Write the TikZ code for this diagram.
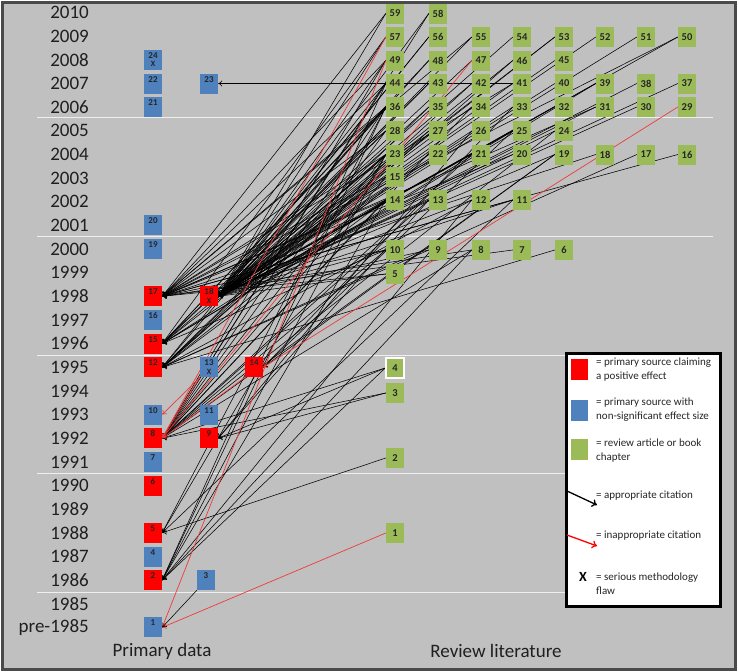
\documentclass[tikz,border=0pt]{standalone}
\usepackage{fontspec}
\setmainfont{Carlito}
\usetikzlibrary{arrows.meta}
\pgfdeclarelayer{back}
\pgfdeclarelayer{edges}
\pgfsetlayers{back,edges,main}
\definecolor{bggray}{HTML}{C0C0C0}
\definecolor{framegray}{HTML}{4A4A4A}
\definecolor{pred}{HTML}{FF0000}
\definecolor{pblue}{HTML}{4F81BD}
\definecolor{rgreen}{HTML}{9BBB59}
\definecolor{cred}{HTML}{F03A3A}
\tikzset{
  year/.style={anchor=east, font=\fontsize{19}{19}\selectfont, text=black!88, inner sep=0pt},
  prim/.style={rectangle, minimum width=18pt, minimum height=20pt, inner sep=0pt,
    text height=8.5pt, text depth=11.5pt, font=\bfseries\fontsize{9}{9}\selectfont, text=black!85},
  posbox/.style={prim, fill=pred},
  nsigbox/.style={prim, fill=pblue},
  revbox/.style={rectangle, fill=rgreen, minimum width=18pt, minimum height=20pt, inner sep=0pt,
    font=\bfseries\fontsize{10.5}{10.5}\selectfont, text=black!85},
  xmark/.style={font=\bfseries\fontsize{8}{8}\selectfont, inner sep=0pt, text=black!85},
  cite/.style={draw=black, line width=0.55pt, -{To[length=4pt,width=6pt]}},
  badcite/.style={draw=cred, line width=0.7pt, -{To[length=4pt,width=6pt]}},
  sepline/.style={draw=white!75!bggray, line width=0.9pt},
  legtext/.style={anchor=west, align=left, inner sep=0pt, font=\fontsize{11}{14}\selectfont, text=black!85},
  bottomlabel/.style={font=\fontsize{19}{19}\selectfont, text=black!88, inner sep=0pt},
}
\begin{document}
\begin{tikzpicture}[x=1pt,y=-1pt]
\useasboundingbox (0,0) rectangle (739,672);
\begin{pgfonlayer}{back}
  \fill[white] (0,0) rectangle (739,672);
  \draw[framegray, line width=3pt, fill=bggray] (2.5,2.5) rectangle (735,669.5);
  \foreach \yy in {117.5,236,355,473.5,592}
    \draw[sepline] (37,\yy) -- (713,\yy);
\end{pgfonlayer}

% year labels
\foreach \yr [count=\k from 0] in {2010,2009,2008,2007,2006,2005,2004,2003,2002,2001,2000,1999,1998,1997,1996,1995,1994,1993,1992,1991,1990,1989,1988,1987,1986,1985,pre-1985}
  \node[year] (yr\k) at (89,{12.5+23.65*\k}) {\yr};

% primary data
\foreach \n/\x/\y in {24/153/59.8,22/153/83.5,21/153/107.1,23/209/83.5,20/153/225.4,19/153/249,16/153/320,13/209/367.3,10/153/414.6,11/209/414.6,7/153/461.9,4/153/556.5,3/206/580.1,1/153/627.4}
  \node[nsigbox] (p\n) at (\x,\y) {\n};
\foreach \n/\x/\y in {17/153/296.3,18/209/296.3,15/153/343.6,12/153/367.3,14/254/367.3,8/153/438.2,9/209/438.2,6/153/485.5,5/153/532.8,2/153/580.1}
  \node[posbox] (p\n) at (\x,\y) {\n};
\node[xmark, yshift=-4.5pt] (x24) at (p24.center) {X};
\node[xmark, yshift=-4.5pt] (x18) at (p18.center) {X};
\node[xmark, yshift=-4.5pt] (x13) at (p13.center) {X};

% review literature
\foreach \n/\x/\y in {
  59/395/13.5,58/438/13.5,
  57/395/37,56/438/37,55/481/37,54/522/37,53/564/37,52/605/37,51/646/37,50/687/37,
  49/395/60.5,48/438/60.5,47/481/60.5,46/522/60.5,45/564/60.5,
  44/395/83.5,43/438/83.5,42/481/83.5,41/522/83.5,40/564/83.5,39/605/83.5,38/646/83.5,37/687/83.5,
  36/395/107,35/438/107,34/481/107,33/522/107,32/564/107,31/605/107,30/646/107,29/687/107,
  28/395/131,27/438/131,26/481/131,25/522/131,24/564/131,
  23/395/154.5,22/438/154.5,21/481/154.5,20/522/154.5,19/564/154.5,18/605/154.5,17/646/154.5,16/687/154.5,
  15/395/177,
  14/395/200,13/438/200,12/481/200,11/522/200,
  10/395/250,9/438/250,8/481/250,7/522/250,6/564/250,
  5/395/274,3/395/393,2/395/458,1/395/533}
  \node[revbox] (g\n) at (\x,\y) {\n};
\node[revbox, draw=white, line width=1.5pt] (g4) at (395,368) {4};

% citations
\begin{pgfonlayer}{edges}
\foreach \s/\t in {
  59/18,59/17,58/18,58/8,57/18,57/15,56/18,56/12,55/18,55/17,54/18,53/18,53/15,52/18,51/18,50/18,50/17,
  49/18,49/17,49/8,48/18,48/15,47/18,46/18,46/12,45/18,
  44/18,44/17,44/8,44/2,43/18,43/15,42/18,42/12,41/23,41/18,41/17,40/18,39/18,39/15,38/18,37/18,
  36/18,36/17,36/15,36/12,36/8,36/5,36/2,35/18,35/12,34/18,34/8,33/18,33/14,32/18,31/18,31/17,30/18,
  28/18,28/17,28/15,28/8,27/18,27/12,26/18,26/9,25/18,25/15,25/14,24/18,24/8,
  23/18,23/17,23/15,23/12,23/8,23/5,23/2,22/18,22/12,21/18,21/8,20/18,20/17,19/18,19/8,19/14,18/17,17/12,16/17,
  15/18,15/17,15/8,14/18,14/17,14/15,14/12,14/8,14/2,13/18,13/8,13/9,12/18,12/12,12/2,11/18,11/17,11/5,
  10/18,10/17,10/15,10/8,9/18,9/12,8/17,8/8,8/2,7/17,6/12,5/18,5/17,4/8,4/9,4/2,3/8,3/9,2/5}
  \draw[cite] (g\s.west) -- (p\t.east);
\foreach \s/\t in {1/1,29/14,57/8,47/8,49/1}
  \draw[badcite] (g\s.west) -- (p\t.east);
\draw[badcite] (p13.south west) -- (p10.east);
\draw[badcite] (p13.south west) -- (p8.east);
\draw[badcite] (p14.south west) -- (p8.east);
\draw[cite] (p3.south west) -- (p1.east);
\end{pgfonlayer}

% legend
\node[draw=black, line width=2.5pt, fill=white, minimum width=154pt, minimum height=253pt, inner sep=0pt, anchor=north west] (legend) at (565,352) {};
\node[fill=pred, minimum width=17pt, minimum height=21pt, inner sep=0pt] (lr) at (579.5,369.5) {};
\node[fill=pblue, minimum width=17pt, minimum height=21pt, inner sep=0pt] (lb) at (579.5,410) {};
\node[fill=rgreen, minimum width=17pt, minimum height=21pt, inner sep=0pt] (lg) at (579.5,449) {};
\node[legtext] (lt1) at (596,370) {= primary source claiming\\a positive effect};
\node[legtext] (lt2) at (596,410) {= primary source with\\non-significant effect size};
\node[legtext] (lt3) at (596,450.5) {= review article or book\\chapter};
\coordinate (la1s) at (567,491);
\coordinate (la1e) at (597,505);
\draw[black, line width=1.3pt, -{To[length=5pt,width=8pt]}] (la1s) -- (la1e);
\node[legtext] (lt4) at (596,496) {= appropriate citation};
\coordinate (la2s) at (567,535);
\coordinate (la2e) at (597,546);
\draw[pred, line width=1.3pt, -{To[length=5pt,width=8pt]}] (la2s) -- (la2e);
\node[legtext] (lt5) at (596,536) {= inappropriate citation};
\node[font=\bfseries\fontsize{14}{14}\selectfont, inner sep=0pt] (lx) at (583,577) {X};
\node[legtext] (lt6) at (596,584) {= serious methodology\\flaw};

% axis labels
\node[bottomlabel] (lblprim) at (162,651) {Primary data};
\node[bottomlabel] (lblrev) at (496,651) {Review literature};
\end{tikzpicture}
\end{document}
